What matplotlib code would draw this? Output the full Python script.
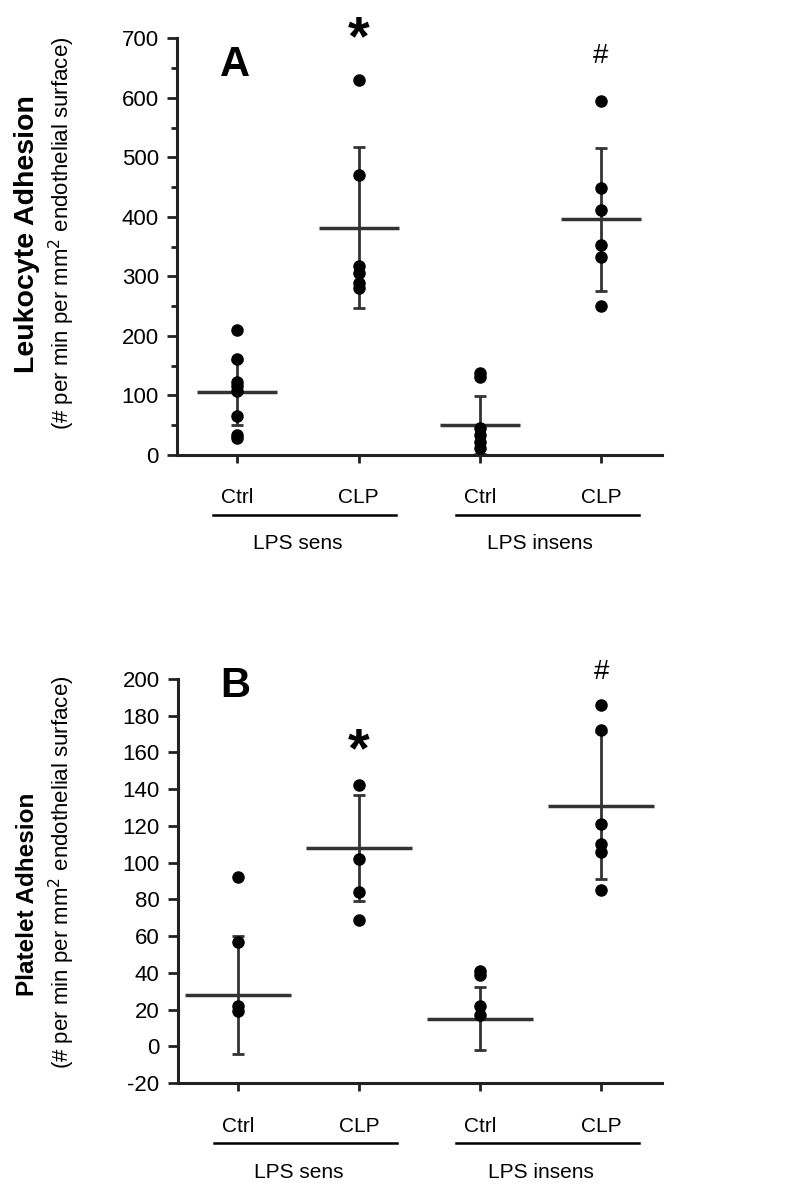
import matplotlib
matplotlib.use("Agg")
import matplotlib.pyplot as plt
from matplotlib.ticker import MultipleLocator
from matplotlib.transforms import offset_copy

plt.rcParams["font.family"] = ["Liberation Sans", "DejaVu Sans"]
plt.rcParams["axes.unicode_minus"] = False

cats = ["Ctrl", "CLP", "Ctrl", "CLP"]
groups = ["LPS sens", "LPS insens"]

# panel A - leukocyte adhesion
leuko_pts = [
    [210, 161, 123, 115, 107, 65, 34, 28],
    [630, 470, 317, 305, 289, 281],
    [137, 130, 45, 34, 22, 12],
    [595, 449, 411, 352, 333, 250],
]
leuko_mean = [105, 382, 50, 396]
leuko_sd = [55, 135, 49, 120]
leuko_marks = ["", "*", "", "#"]
leuko_mark_y = [0, 697, 0, 670]

# panel B - platelet adhesion
plate_pts = [
    [92, 57, 22, 19],
    [142, 102, 84, 69],
    [41, 39, 22, 17],
    [186, 172, 121, 110, 106, 85],
]
plate_mean = [28, 108, 15, 131]
plate_sd = [32, 29, 17, 40]
plate_marks = ["", "*", "", "#"]
plate_mark_y = [0, 160, 0, 204]

fig = plt.figure(figsize=(8, 12), dpi=100)
axA = fig.add_axes([0.221, 0.621, 0.606, 0.347])
axB = fig.add_axes([0.222, 0.0975, 0.605, 0.3367])

dark = "#222222"


def draw_panel(ax, pts, mean, sd, marks, mark_y, half_w, letter, letter_y):
    for i, vals in enumerate(pts):
        ax.errorbar(i, mean[i], yerr=sd[i], fmt="none", ecolor="#333333",
                    elinewidth=2, capsize=4, capthick=2, zorder=2)
        ax.plot([i - half_w, i + half_w], [mean[i], mean[i]], color="#333333",
                lw=2.5, zorder=2, solid_capstyle="butt")
        ax.plot([i] * len(vals), vals, "o", color="black", ms=8, zorder=3)
        if marks[i] == "*":
            ax.text(i, mark_y[i], "*", ha="center", va="center", fontsize=40,
                    fontweight="bold", clip_on=False)
        elif marks[i] == "#":
            ax.text(i, mark_y[i], "#", ha="center", va="center", fontsize=20,
                    clip_on=False)
    ax.text(-0.02, letter_y, letter, ha="center", va="center", fontsize=30,
            fontweight="bold")
    ax.set_xlim(-0.5, 3.5)
    ax.set_xticks(range(4))
    ax.set_xticklabels([])
    ax.tick_params(axis="x", length=6, width=2, direction="out", color=dark)
    ax.tick_params(axis="y", length=7, width=2, direction="out", color=dark,
                   labelsize=16, pad=6)
    ax.tick_params(axis="y", which="minor", length=4, width=2, color=dark)
    for s in ["top", "right"]:
        ax.spines[s].set_visible(False)
    for s in ["left", "bottom"]:
        ax.spines[s].set_linewidth(2.2)
        ax.spines[s].set_color(dark)

    base = ax.get_xaxis_transform()
    t_lab = offset_copy(base, fig=fig, y=-43, units="dots")
    t_line = offset_copy(base, fig=fig, y=-60, units="dots")
    t_grp = offset_copy(base, fig=fig, y=-89, units="dots")
    for i, c in enumerate(cats):
        ax.text(i, 0, c, transform=t_lab, ha="center", va="center", fontsize=15)
    for g, name in enumerate(groups):
        x0, x1 = 2 * g - 0.2, 2 * g + 1.31
        ax.plot([x0, x1], [0, 0], color="black", lw=1.8, transform=t_line,
                clip_on=False)
        ax.text(2 * g + 0.5, 0, name, transform=t_grp, ha="center",
                va="center", fontsize=15)


draw_panel(axA, leuko_pts, leuko_mean, leuko_sd, leuko_marks, leuko_mark_y,
           0.33, "A", 655)
axA.set_ylim(0, 700)
axA.yaxis.set_major_locator(MultipleLocator(100))
axA.yaxis.set_minor_locator(MultipleLocator(50))

draw_panel(axB, plate_pts, plate_mean, plate_sd, plate_marks, plate_mark_y,
           0.44, "B", 196)
axB.set_ylim(-20, 200)
axB.yaxis.set_major_locator(MultipleLocator(20))

fig.text(0.034, 0.805, "Leukocyte Adhesion", rotation=90, ha="center",
         va="center", fontsize=20.5, fontweight="bold")
fig.text(0.078, 0.806, "(# per min per mm$^2$ endothelial surface)",
         rotation=90, ha="center", va="center", fontsize=16)
fig.text(0.034, 0.255, "Platelet Adhesion", rotation=90, ha="center",
         va="center", fontsize=17.5, fontweight="bold")
fig.text(0.078, 0.273, "(# per min per mm$^2$ endothelial surface)",
         rotation=90, ha="center", va="center", fontsize=16)

fig.savefig("out.png", dpi=100)
